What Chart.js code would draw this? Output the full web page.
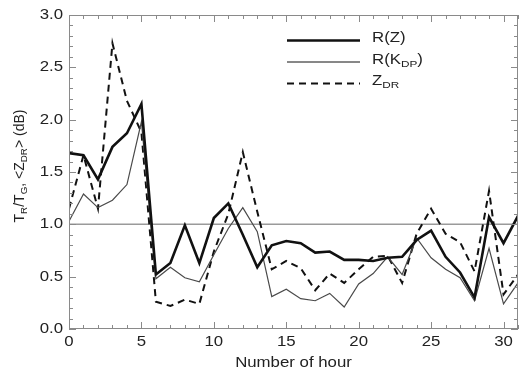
<!DOCTYPE html>
<html>
<head>
<meta charset="utf-8">
<script src="https://cdn.jsdelivr.net/npm/chart.js@4"></script>
<style>
  body { margin: 0; background: #fff; }
  canvas { display: block; }
</style>
</head>
<body>
<canvas id="hourChart" width="519" height="376"></canvas>
<script>
/* ==========================================================
   DATA
========================================================== */

const hours = [0, 1, 2, 3, 4, 5, 6, 7, 8, 9, 10, 11, 12, 13, 14, 15,
               16, 17, 18, 19, 20, 21, 22, 23, 24, 25, 26, 27, 28, 29, 30, 31];

const rZ = [1.68, 1.66, 1.43, 1.74, 1.87, 2.15, 0.52, 0.63, 0.99, 0.63, 1.06, 1.20,
            0.90, 0.59, 0.80, 0.84, 0.82, 0.73, 0.74, 0.66, 0.66, 0.65, 0.68, 0.69,
            0.85, 0.94, 0.69, 0.54, 0.30, 1.07, 0.82, 1.08];

const rKdp = [1.03, 1.29, 1.16, 1.23, 1.38, 1.98, 0.48, 0.59, 0.49, 0.45, 0.71, 0.96,
              1.16, 0.93, 0.31, 0.38, 0.29, 0.27, 0.34, 0.21, 0.43, 0.53, 0.69, 0.52,
              0.87, 0.68, 0.57, 0.49, 0.27, 0.77, 0.24, 0.44];

const zdr = [1.15, 1.66, 1.15, 2.73, 2.18, 1.88, 0.26, 0.22, 0.28, 0.24, 0.74, 1.10,
             1.69, 1.12, 0.57, 0.65, 0.58, 0.37, 0.53, 0.44, 0.57, 0.69, 0.70, 0.44,
             0.91, 1.15, 0.91, 0.83, 0.55, 1.32, 0.33, 0.52];

const refLevel = 1.0;

const xTicks = [0, 5, 10, 15, 20, 25, 30];
const yTicks = [0.0, 0.5, 1.0, 1.5, 2.0, 2.5, 3.0];

const FONT = "'Liberation Sans', Arial, sans-serif";
const TEXT = "#222";
const STRETCH = 1.2;   // source figure text is a bit wide

/* ==========================================================
   HELPERS
========================================================== */

function toPoints(values) {
    return hours.map((h, i) => ({ x: h, y: values[i] }));
}

// parts = [[text, isSub], ...]
function richWidth(ctx, parts, size) {
    let w = 0;
    parts.forEach(([txt, sub]) => {
        ctx.font = (sub ? size * 0.7 : size) + "px " + FONT;
        w += ctx.measureText(txt).width;
    });
    return w;
}

function drawRich(ctx, parts, x, y, size, sx) {
    ctx.save();
    ctx.translate(x, y);
    ctx.scale(sx, 1);
    let cx = 0;
    parts.forEach(([txt, sub]) => {
        ctx.font = (sub ? size * 0.7 : size) + "px " + FONT;
        ctx.fillText(txt, cx, sub ? size * 0.3 : 0);
        cx += ctx.measureText(txt).width;
    });
    ctx.restore();
}

function drawText(ctx, txt, x, y, size, align) {
    ctx.save();
    ctx.translate(x, y);
    ctx.scale(STRETCH, 1);
    ctx.font = size + "px " + FONT;
    ctx.textAlign = align;
    ctx.textBaseline = "middle";
    ctx.fillText(txt, 0, 0);
    ctx.restore();
}

/* ==========================================================
   PLUGIN: reference line, frame, inward ticks, labels, legend
========================================================== */

const framePlugin = {

    id: "frame",

    beforeDatasetsDraw(chart) {
        const { ctx, chartArea: a, scales } = chart;
        const y = scales.y.getPixelForValue(refLevel);
        ctx.save();
        ctx.strokeStyle = "#9a9a9a";
        ctx.lineWidth = 1.5;
        ctx.beginPath();
        ctx.moveTo(a.left, y);
        ctx.lineTo(a.right, y);
        ctx.stroke();
        ctx.restore();
    },

    afterDatasetsDraw(chart) {
        const { ctx, chartArea: a, scales } = chart;
        ctx.save();
        ctx.strokeStyle = "#8a8a8a";
        ctx.lineWidth = 1;
        ctx.strokeRect(a.left + 0.5, a.top + 0.5, a.right - a.left - 1, a.bottom - a.top - 1);

        ctx.beginPath();
        // x ticks every hour, major every 5
        for (let v = scales.x.min; v <= scales.x.max; v++) {
            const px = Math.round(scales.x.getPixelForValue(v)) + 0.5;
            const len = v % 5 === 0 ? 7 : 4;
            ctx.moveTo(px, a.bottom);
            ctx.lineTo(px, a.bottom - len);
            ctx.moveTo(px, a.top);
            ctx.lineTo(px, a.top + len);
        }
        // y ticks every 0.1, major every 0.5
        for (let i = 0; i <= 30; i++) {
            const py = Math.round(scales.y.getPixelForValue(i / 10)) + 0.5;
            const len = i % 5 === 0 ? 7 : 4;
            ctx.moveTo(a.left, py);
            ctx.lineTo(a.left + len, py);
            ctx.moveTo(a.right, py);
            ctx.lineTo(a.right - len, py);
        }
        ctx.stroke();
        ctx.restore();

        // tick labels
        ctx.save();
        ctx.fillStyle = TEXT;
        xTicks.forEach(v => {
            drawText(ctx, String(v), scales.x.getPixelForValue(v), a.bottom + 13, 14, "center");
        });
        yTicks.forEach(v => {
            drawText(ctx, v.toFixed(1), a.left - 6, scales.y.getPixelForValue(v), 14, "right");
        });
        drawText(ctx, "Number of hour", (a.left + a.right) / 2, a.bottom + 34, 14, "center");

        // y axis title with subscripts
        const size = 14;
        const title = [["T", false], ["R", true], ["/T", false], ["G", true],
                       [", <Z", false], ["DR", true], ["> (dB)", false]];
        const w = richWidth(ctx, title, size);
        ctx.translate(20, (a.top + a.bottom) / 2 - 6);
        ctx.rotate(-Math.PI / 2);
        ctx.textBaseline = "middle";
        drawRich(ctx, title, -w / 2, 0, size, 1);
        ctx.restore();

        // legend
        ctx.save();
        const items = [
            { parts: [["R(Z)", false]], width: 2.4, dash: [] },
            { parts: [["R(K", false], ["DP", true], [")", false]], width: 1, dash: [] },
            { parts: [["Z", false], ["DR", true]], width: 2, dash: [7, 5] }
        ];
        items.forEach((it, i) => {
            const ly = 40.5 + i * 21.5;
            ctx.strokeStyle = "#111";
            ctx.lineWidth = it.width;
            ctx.setLineDash(it.dash);
            ctx.beginPath();
            ctx.moveTo(287, ly);
            ctx.lineTo(360, ly);
            ctx.stroke();
            ctx.setLineDash([]);
            ctx.fillStyle = TEXT;
            ctx.textBaseline = "middle";
            drawRich(ctx, it.parts, 372, ly - 2, 14, STRETCH);
        });
        ctx.restore();
    }

};

/* ==========================================================
   CHART
========================================================== */

const ctx = document.getElementById("hourChart").getContext("2d");

const hourChart = new Chart(ctx, {

    type: "line",

    data: {

        datasets: [
            {
                label: "R(Z)",
                data: toPoints(rZ),
                borderColor: "#111",
                borderWidth: 2.6,
                pointRadius: 0,
                tension: 0
            },
            {
                label: "R(KDP)",
                data: toPoints(rKdp),
                borderColor: "#4a4a4a",
                borderWidth: 1.2,
                pointRadius: 0,
                tension: 0
            },
            {
                label: "ZDR",
                data: toPoints(zdr),
                borderColor: "#111",
                borderWidth: 2,
                borderDash: [7, 5],
                pointRadius: 0,
                tension: 0
            }
        ]

    },

    options: {

        responsive: false,
        animation: false,
        events: [],

        layout: {
            padding: { top: 15, right: 1, left: 0, bottom: 0 }
        },

        plugins: {
            legend: { display: false },
            tooltip: { enabled: false }
        },

        scales: {

            x: {
                type: "linear",
                min: 0,
                max: 31,
                grid: { display: false, drawTicks: false },
                border: { display: false },
                ticks: { display: false },
                afterFit(scale) { scale.height = 47; }
            },

            y: {
                min: 0,
                max: 3,
                grid: { display: false, drawTicks: false },
                border: { display: false },
                ticks: { display: false },
                afterFit(scale) { scale.width = 69; }
            }

        }

    },

    plugins: [framePlugin]

});
</script>
</body>
</html>
